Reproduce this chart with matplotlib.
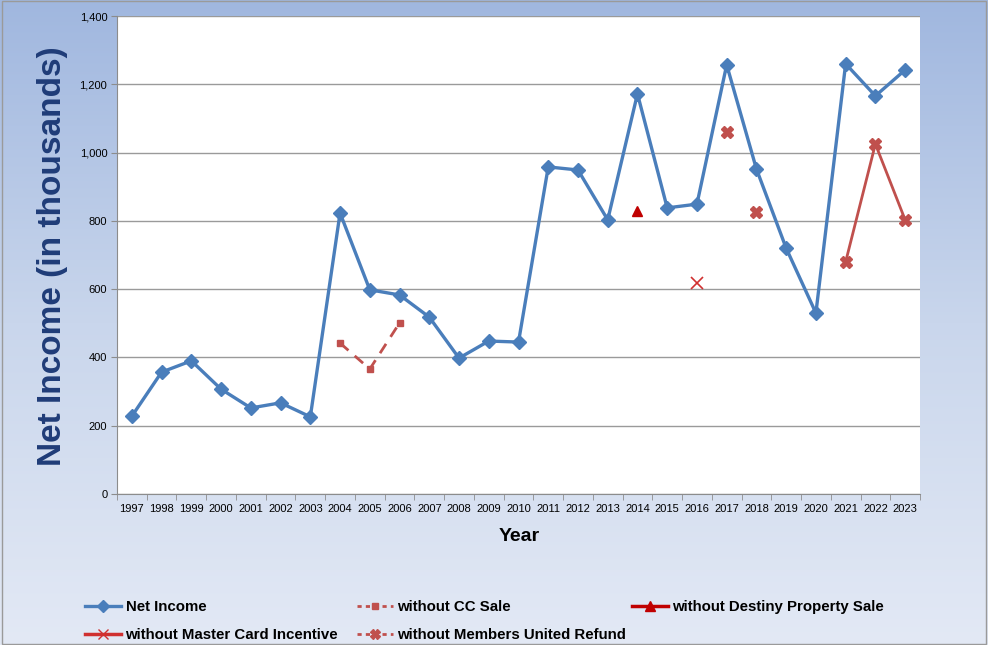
import numpy as np
import matplotlib
matplotlib.use("Agg")
import matplotlib.pyplot as plt
from matplotlib.lines import Line2D
from matplotlib.colors import LinearSegmentedColormap

years = list(range(1997, 2024))
net_income = [228, 357, 390, 307, 252, 267, 226, 823, 598, 583, 518, 398, 448, 445,
              958, 949, 803, 1172, 838, 849, 1257, 952, 720, 530, 1260, 1166, 1242]
cc_years = [2004, 2005, 2006]
cc_values = [442, 366, 501]
destiny_years = [2014]
destiny_values = [829]
mc_years = [2016]
mc_values = [618]
mu_point_years = [2017, 2018]
mu_point_values = [1060, 826]
mu_line_years = [2021, 2022, 2023]
mu_line_values = [680, 1025, 803]

plt.rcParams['font.family'] = ['Liberation Sans', 'DejaVu Sans']

fig = plt.figure(figsize=(9.88, 6.45), dpi=100)

# gradient background
bg = fig.add_axes([0, 0, 1, 1], zorder=-10)
cmap = LinearSegmentedColormap.from_list('bg', ['#a0b7df', '#c9d6ec', '#e3e9f5'])
grad = np.linspace(0, 1, 256).reshape(-1, 1)
bg.imshow(grad, aspect='auto', cmap=cmap, extent=[0, 1, 0, 1], origin='upper')
bg.set_xlim(0, 1); bg.set_ylim(0, 1)
bg.axis('off')
bg.add_patch(plt.Rectangle((0.002, 0.002), 0.996, 0.996, fill=False,
                           edgecolor='#9a9a9a', lw=1.0))

ax = fig.add_axes([117/988, 1 - 494/645, (920 - 117)/988, (494 - 16)/645])
ax.set_facecolor('white')

blue = '#4a7ebb'
red = '#c0504d'

ax.plot(years, net_income, color=blue, lw=2.4, marker='D', ms=7,
        markerfacecolor=blue, markeredgecolor=blue, zorder=3)
ax.plot(cc_years, cc_values, color=red, lw=2, ls=(0, (4, 3)), marker='s', ms=4.5,
        zorder=4)
ax.plot(destiny_years, destiny_values, ls='none', marker='^', ms=7, color='#c00000',
        zorder=4)
ax.plot(mc_years, mc_values, ls='none', marker='x', ms=8, mew=1.2, color='#d03030',
        zorder=4)
ax.plot(mu_point_years, mu_point_values, ls='none', marker='X', ms=8, color=red,
        zorder=4)
ax.plot(mu_line_years, mu_line_values, color=red, lw=2, marker='X', ms=8, zorder=4)

ax.set_xlim(1996.5, 2023.5)
ax.set_ylim(0, 1400)
ax.set_yticks(range(0, 1401, 200))
ax.set_yticklabels([f"{v:,}" for v in range(0, 1401, 200)], fontsize=8)
ax.set_xticks(years)
ax.set_xticklabels([str(y) for y in years], fontsize=8)
ax.set_xticks(np.arange(1996.5, 2024, 1.0), minor=True)
ax.tick_params(axis='x', which='major', length=0, pad=7)
ax.tick_params(axis='x', which='minor', length=4, color='#8c8c8c')
ax.tick_params(axis='y', length=4, color='#8c8c8c', pad=3)
ax.yaxis.grid(True, color='#9a9a9a', lw=1)
ax.set_axisbelow(True)
for s in ['top', 'right']:
    ax.spines[s].set_visible(False)
for s in ['left', 'bottom']:
    ax.spines[s].set_color('#8c8c8c')

ax.set_ylabel('Net Income (in thousands)', fontsize=24, fontweight='bold',
              color='#1f3c78')
ax.yaxis.set_label_coords((68 - 117) / 803, (494 - 256) / 478)
ax.set_xlabel('Year', fontsize=14, fontweight='bold', color='black')
ax.xaxis.set_label_coords((519 - 117) / 803, -(528 - 494) / 478)

h_ni = Line2D([], [], color=blue, lw=2.4, marker='D', ms=6)
h_cc = Line2D([], [], color=red, lw=2, ls=(0, (1.5, 1.5)), marker='s', ms=4.5)
h_de = Line2D([], [], color='#c00000', lw=2.5, marker='^', ms=7)
h_mc = Line2D([], [], color='#d03030', lw=2.5, marker='x', ms=7)
h_mu = Line2D([], [], color=red, lw=2, ls=(0, (1.5, 1.5)), marker='X', ms=7)

cols = [
    ([h_ni, h_mc], ['Net Income', 'without Master Card Incentive'], 85),
    ([h_cc, h_mu], ['without CC Sale', 'without Members United Refund'], 357),
    ([h_de], ['without Destiny Property Sale'], 632),
]
for hs, ls, xpx in cols:
    leg = fig.legend(hs, ls, loc='upper left',
                     bbox_to_anchor=(xpx / 988, 1 - 600 / 645),
                     frameon=False, prop={'weight': 'bold', 'size': 10.8},
                     handlelength=2.4, handletextpad=0.3, labelspacing=0.95,
                     borderpad=0, borderaxespad=0)

fig.savefig('out.png', dpi=100)
